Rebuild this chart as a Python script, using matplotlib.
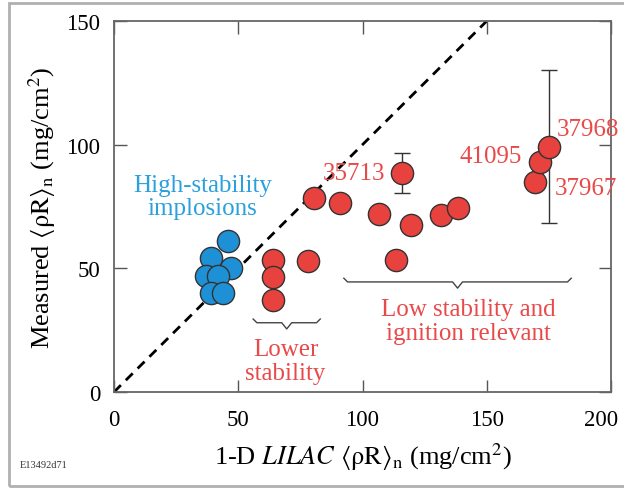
import numpy as np
import matplotlib
matplotlib.use("Agg")
import matplotlib.pyplot as plt
from matplotlib.patches import Rectangle
from matplotlib.transforms import ScaledTranslation

plt.rcParams['font.family'] = ['Liberation Serif', 'DejaVu Serif']
plt.rcParams['mathtext.fontset'] = 'stix'

# high-stability implosions (blue)
blue_x = [46, 39, 47, 37, 42, 39, 44]
blue_y = [61, 54, 50, 47, 47, 40, 40]

# lower stability + low stability / ignition relevant (red)
red_x = [64, 64, 64, 78, 80.5, 91, 106.5, 113.5, 116, 119.5, 131.5, 138.5, 169.5, 171.5, 175]
red_y = [53.5, 46.5, 37, 53, 78.5, 76.5, 72, 53.5, 88.5, 67.5, 71.5, 74.5, 85, 93, 99]

# error bars
err_x = [116, 175]
err_y = [88.5, 99]
err_lo = [8, 30.5]
err_hi = [8, 31]

shot_labels = ["35713", "41095", "37968", "37967"]
shot_pos = [(109, 88.5), (164, 95.5), (178, 106.5), (177.5, 82.5)]
shot_ha = ["right", "right", "left", "left"]

# braces: (x0, x1, y)
braces = [(56, 83, 28), (92.5, 184, 44.5)]

red = "#e8423e"
blue = "#1e90d6"
redtxt = "#e84a4a"
bluetxt = "#2aa0dc"

fig = plt.figure(figsize=(6.24, 4.89), dpi=100)
ax = fig.add_axes([114/624, 1 - 393/489, 497/624, 371/489])

ax.plot([0, 150], [0, 150], ls=(0, (3.5, 2.5)), color="black", lw=2, zorder=1)

ax.errorbar(err_x, err_y, yerr=[err_lo, err_hi], fmt="none", ecolor="#333333",
            elinewidth=1, capsize=6, capthick=1, zorder=2)

ax.plot(blue_x, blue_y, "o", ms=16, mfc=blue, mec="#333333", mew=1, zorder=3)
ax.plot(red_x, red_y, "o", ms=16, mfc=red, mec="#333333", mew=1, zorder=3)

for lab, (tx, ty), ha in zip(shot_labels, shot_pos, shot_ha):
    ax.text(tx, ty, lab, color=redtxt, fontsize=18, ha=ha, va="center")

for x0, x1, yb in braces:
    xm = (x0 + x1) / 2
    bx = [x0, x0 + 1.5, xm - 2, xm, xm + 2, x1 - 1.5, x1]
    by = [yb + 1.5, yb, yb, yb - 2.5, yb, yb, yb + 1.5]
    ax.plot(bx, by, color="#444444", lw=1, zorder=2)

ax.text(35.5, 79, "High-stability\nimplosions", color=bluetxt, fontsize=18,
        ha="center", va="center", linespacing=1.1)
ax.text(69, 12.5, "Lower\nstability", color=redtxt, fontsize=18,
        ha="center", va="center", linespacing=1.1)
ax.text(142.5, 28.7, "Low stability and\nignition relevant", color=redtxt, fontsize=18,
        ha="center", va="center", linespacing=1.1)

ax.set_xlim(0, 200)
ax.set_ylim(0, 150)
ax.set_xticks([0, 50, 100, 150, 200])
ax.set_yticks([0, 50, 100, 150])
ax.tick_params(direction="in", length=9, width=1, top=True, right=True,
               labelsize=16.5, color="#555555")
ax.tick_params(axis="x", pad=12)
ax.tick_params(axis="y", pad=10)
for s in ax.spines.values():
    s.set_color("#666666")
    s.set_linewidth(1.3)

# keep the last x tick label inside the picture
last = ax.get_xticklabels()[-1]
last.set_transform(last.get_transform() + ScaledTranslation(-10/100, 0, fig.dpi_scale_trans))

ax.set_xlabel(r"1-D $\it{LILAC}$ $\langle\mathrm{\rho R}\rangle_\mathrm{n}$ (mg/cm$^2$)", fontsize=19, labelpad=8)
ax.set_ylabel(r"Measured $\langle\mathrm{\rho R}\rangle_\mathrm{n}$ (mg/cm$^2$)", fontsize=19, labelpad=6)

fig.text(20/624, 1 - 466/489, "E13492d71", fontsize=7.5, color="#333333", va="center")
fig.patches.append(Rectangle((9/624, 2/489), 1.0, 1 - 6/489, transform=fig.transFigure,
                             fill=False, edgecolor="#b0b0b0", lw=2))

fig.savefig("out.png", dpi=100)
